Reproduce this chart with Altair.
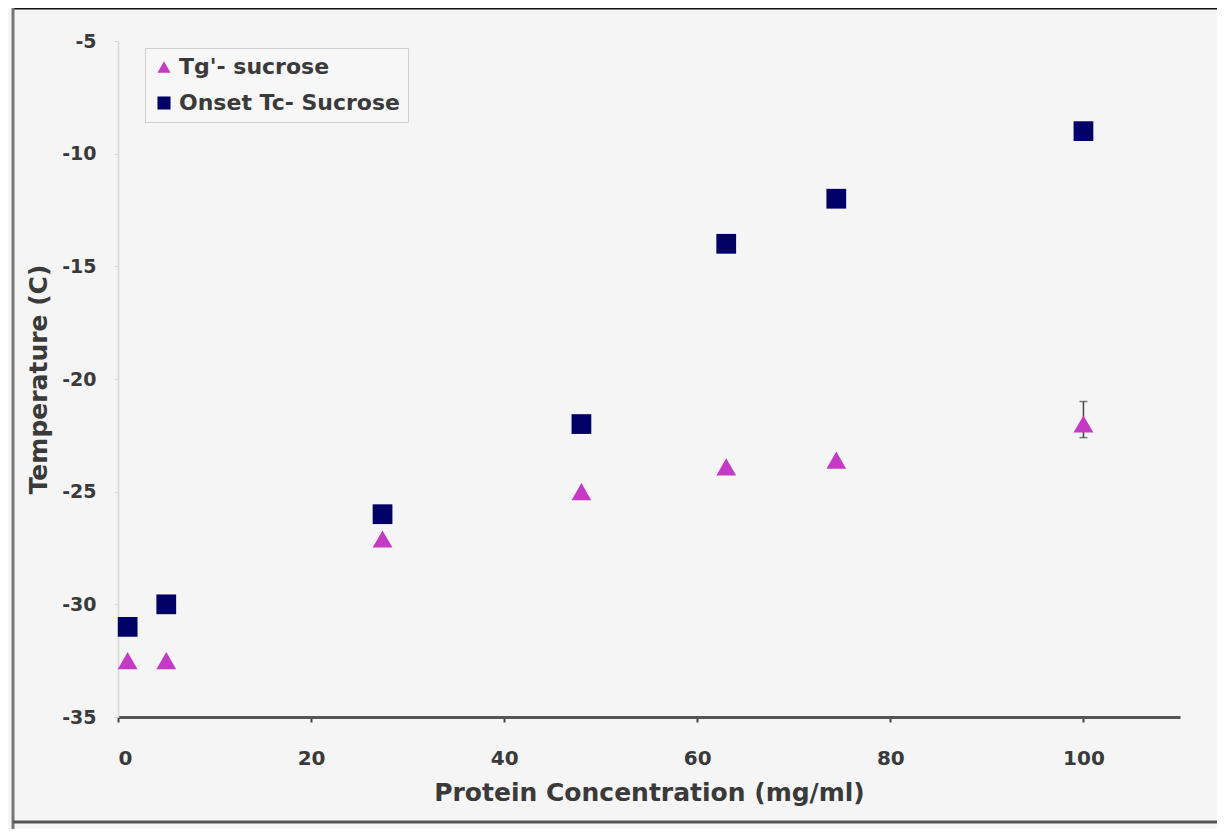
import altair as alt
import pandas as pd

conc = [1, 5, 27.4, 48, 63, 74.4, 100]
tg_sucrose = [-32.5, -32.5, -27.1, -25.0, -23.9, -23.6, -22.0]
onset_tc = [-31.0, -30.0, -26.0, -22.0, -14.0, -12.0, -9.0]
err_x = [100]
err_low = [-22.6]
err_high = [-21.0]

s1 = "Tg'- sucrose"
s2 = "Onset Tc- Sucrose"

df = pd.DataFrame({
    "conc": conc + conc,
    "temp": tg_sucrose + onset_tc,
    "series": [s1] * len(conc) + [s2] * len(conc),
})
edf = pd.DataFrame({"conc": err_x, "lo": err_low, "hi": err_high})

FONT = "DejaVu Sans"

x = alt.X("conc:Q", scale=alt.Scale(domain=[0, 110], nice=False, zero=False),
          axis=alt.Axis(title="Protein Concentration (mg/ml)", values=[0, 20, 40, 60, 80, 100],
                        labelExpr="'' + datum.value",
                        domainColor="#555", domainWidth=3, tickColor="#444",
                        tickSize=5, tickWidth=2, labelPadding=26, titlePadding=12,
                        labelFont=FONT, labelFontSize=20, labelFontWeight="bold", labelColor="#3a3a3a",
                        titleFont=FONT, titleFontSize=25, titleFontWeight="bold", titleColor="#3a3a3a",
                        grid=False))
y = alt.Y("temp:Q", scale=alt.Scale(domain=[-35, -5], nice=False, zero=False),
          axis=alt.Axis(title="Temperature (C)", values=[-35, -30, -25, -20, -15, -10, -5],
                        labelExpr="'' + datum.value",
                        domainColor="#d8d8d8", domainWidth=1.5, tickColor="#d8d8d8", tickSize=4,
                        labelPadding=18, titlePadding=10,
                        labelFont=FONT, labelFontSize=19, labelFontWeight="bold", labelColor="#3a3a3a",
                        titleFont=FONT, titleFontSize=25, titleFontWeight="bold", titleColor="#3a3a3a",
                        grid=False))

points = alt.Chart(df).mark_point(filled=True, opacity=1, size=390).encode(
    x=x, y=y,
    color=alt.Color("series:N", scale=alt.Scale(domain=[s1, s2], range=["#c43ac4", "#000066"]),
                    legend=alt.Legend(orient="none", legendX=27, legendY=7, title=None,
                                      strokeColor="#cfcfcf", fillColor="#f7f7f7", padding=8,
                                      symbolSize=170, labelFont=FONT, labelFontSize=22,
                                      labelFontWeight="bold", labelColor="#3a3a3a", rowPadding=14,
                                      labelOffset=4, labelLimit=400)),
    shape=alt.Shape("series:N", scale=alt.Scale(domain=[s1, s2], range=["triangle-up", "square"]),
                    legend=None),
)

err = alt.Chart(edf).mark_rule(color="#444", strokeWidth=1.5).encode(
    x="conc:Q", y="lo:Q", y2="hi:Q")
caps_lo = alt.Chart(edf).mark_tick(color="#444", thickness=1.5, size=8, orient="horizontal").encode(
    x="conc:Q", y="lo:Q")
caps_hi = alt.Chart(edf).mark_tick(color="#444", thickness=1.5, size=8, orient="horizontal").encode(
    x="conc:Q", y="hi:Q")

frame_top = alt.Chart(edf).mark_rule(color="#111", strokeWidth=3, clip=False).encode(
    x=alt.value(-105), x2=alt.value(1100), y=alt.value(-33))
frame_left = alt.Chart(edf).mark_rule(color="#777", strokeWidth=3, clip=False).encode(
    x=alt.value(-105), y=alt.value(-33), y2=alt.value(800))
frame_bottom = alt.Chart(edf).mark_rule(color="#555", strokeWidth=3, clip=False).encode(
    x=alt.value(-105), x2=alt.value(1100), y=alt.value(781))

chart = alt.layer(frame_top, frame_left, frame_bottom, err, caps_lo, caps_hi, points).properties(
    width=1062, height=676,
    autosize=alt.AutoSizeParams(type="none"),
    padding={"left": 110, "top": 33, "right": 37, "bottom": 112},
).configure(background="#f5f5f5").configure_view(stroke=None)

chart.save("out.html", embed_options={"renderer": "svg", "actions": False})
